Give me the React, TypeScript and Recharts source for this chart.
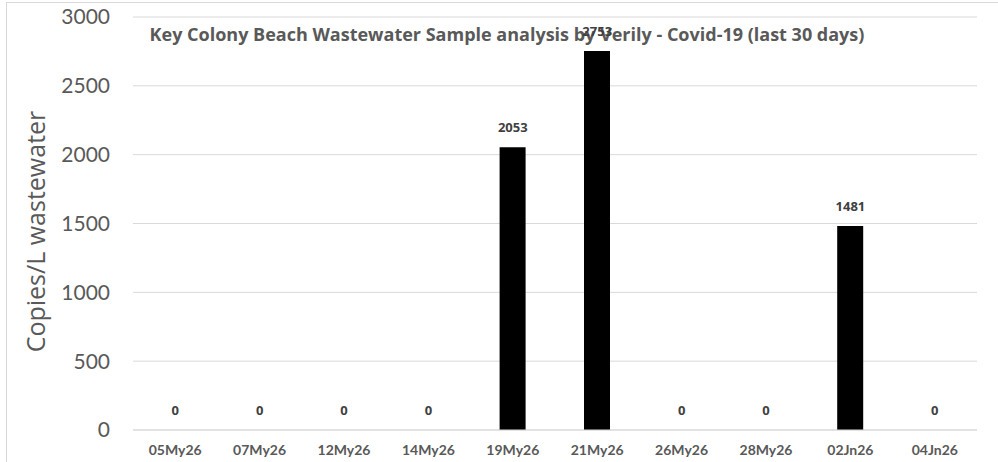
import React from 'react';
import { ComposedChart, Bar, Line, XAxis, YAxis, CartesianGrid, LabelList } from 'recharts';

const dates = ['05My26', '07My26', '12My26', '14My26', '19My26', '21My26', '26My26', '28My26', '02Jn26', '04Jn26'];
const copies = [0, 0, 0, 0, 2053, 2753, 0, 0, 1481, 0];
const yTicks = [0, 500, 1000, 1500, 2000, 2500, 3000];
const title = 'Key Colony Beach Wastewater Sample analysis by Verily - Covid-19 (last 30 days)';
const yLabel = 'Copies/L wastewater';

const data = dates.map((d, i) => ({ date: d, value: copies[i] }));

const LATO = 'Lato, "Open Sans", sans-serif';
const OPEN = '"Open Sans", Lato, sans-serif';

const YLabel = (props: any) => {
  const vb = props.viewBox || { x: 0, y: 0, width: 0, height: 0 };
  const cx = 45;
  const cy = vb.y + vb.height / 2 + 8;
  return (
    <text
      x={cx}
      y={cy}
      transform={`rotate(-90, ${cx}, ${cy})`}
      textAnchor="middle"
      fill="#595959"
      fontSize={25}
      fontFamily={OPEN}
    >
      {yLabel}
    </text>
  );
};

export default function App() {
  return (
    <div style={{ position: 'fixed', left: 0, top: 0, width: 998, height: 462, background: '#fff', overflow: 'hidden' }}>
      <div
        style={{
          position: 'absolute',
          left: 6,
          top: 2,
          width: 1100,
          height: 600,
          border: '1px solid #d9d9d9',
          boxSizing: 'border-box',
        }}
      />
      <div style={{ position: 'absolute', left: 0, top: 0 }}>
        <ComposedChart
          width={998}
          height={462}
          data={data}
          margin={{ top: 17, right: 21, bottom: 0, left: 0 }}
          barCategoryGap={0}
        >
          <CartesianGrid vertical={false} stroke="#d9d9d9" strokeWidth={1} />
          <XAxis
            dataKey="date"
            height={32}
            axisLine={{ stroke: '#d9d9d9', strokeWidth: 1 }}
            tickLine={false}
            tickSize={6}
            tickMargin={9}
            interval={0}
            tick={{ fill: '#595959', fontSize: 14, fontWeight: 700, fontFamily: LATO }}
          />
          <YAxis
            width={133}
            domain={[0, 3000]}
            ticks={yTicks}
            axisLine={false}
            tickLine={false}
            tickSize={6}
            tickMargin={17}
            tick={{ fill: '#595959', fontSize: 21, fontFamily: LATO }}
            label={<YLabel />}
          />
          <Bar dataKey="value" fill="#000000" barSize={26} isAnimationActive={false} />
          <Line
            dataKey="value"
            stroke="none"
            dot={false}
            activeDot={false}
            legendType="none"
            isAnimationActive={false}
          >
            <LabelList
              dataKey="value"
              position="top"
              offset={15}
              fill="#404040"
              fontSize={13}
              fontWeight={700}
              fontFamily={OPEN}
            />
          </Line>
          <text
            x={507}
            y={41}
            textAnchor="middle"
            fill="#595959"
            fontSize={18}
            fontWeight={700}
            fontFamily={OPEN}
          >
            {title}
          </text>
        </ComposedChart>
      </div>
    </div>
  );
}
